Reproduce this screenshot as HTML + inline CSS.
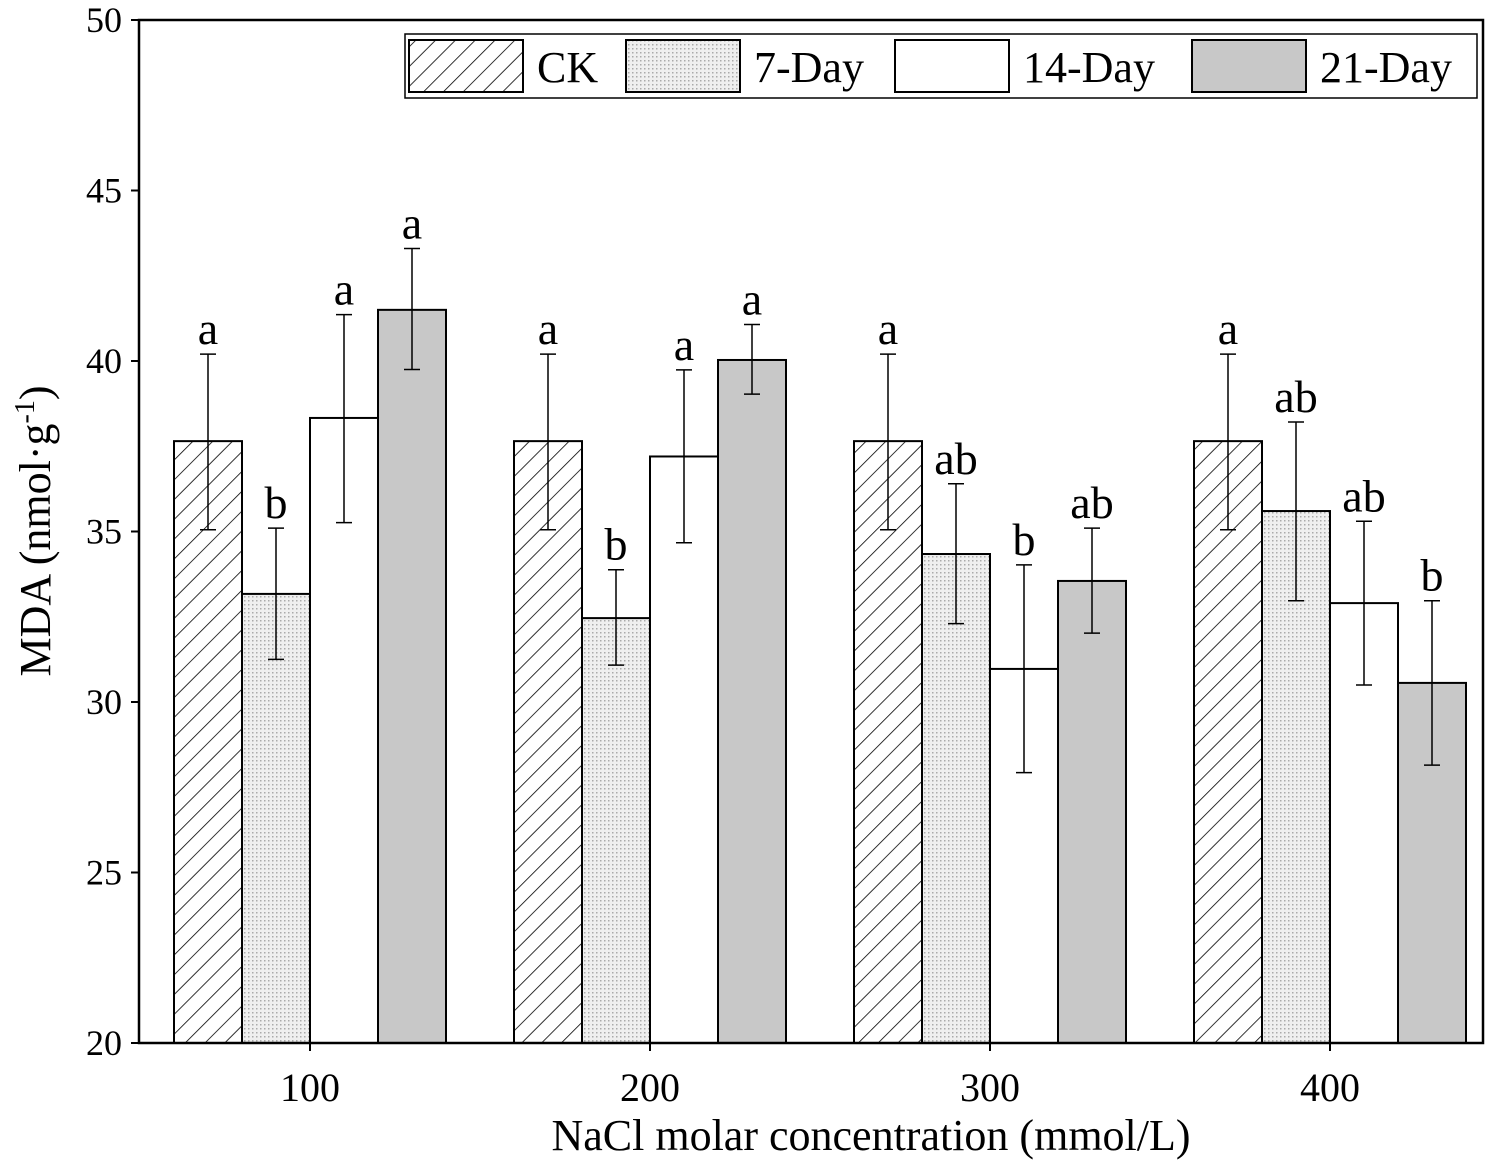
<!DOCTYPE html>
<html><head><meta charset="utf-8"><style>body{margin:0;background:#fff}svg{display:block;font-family:"Liberation Serif",serif}</style></head>
<body>
<svg id="chart" width="1501" height="1163" viewBox="0 0 1501 1163" xmlns="http://www.w3.org/2000/svg">
<defs>
<pattern id="hatch" patternUnits="userSpaceOnUse" width="14" height="14" patternTransform="rotate(45)">
<rect width="14" height="14" fill="#fff"/><line x1="0" y1="0" x2="0" y2="14" stroke="#000" stroke-width="1.6"/></pattern>
<pattern id="dots" patternUnits="userSpaceOnUse" width="4" height="4">
<rect width="4" height="4" fill="#efefef"/><rect x="0" y="0" width="1.5" height="1.5" fill="#aaa"/></pattern>
</defs>
<g id="plot"></g>
</svg>
<script>
const categories=["100","200","300","400"];
const seriesNames=["CK","7-Day","14-Day","21-Day"];
const ck=[37.65,37.65,37.65,37.65];
const ckErrLo=[35.05,35.05,35.05,35.05];
const ckErrHi=[40.2,40.2,40.2,40.2];
const d7=[33.17,32.46,34.34,35.6];
const d7ErrLo=[31.25,31.08,32.3,32.97];
const d7ErrHi=[35.1,33.88,36.4,38.21];
const d14=[38.33,37.2,30.97,32.9];
const d14ErrLo=[35.26,34.67,27.93,30.5];
const d14ErrHi=[41.36,39.74,34.02,35.3];
const d21=[41.5,40.03,33.55,30.56];
const d21ErrLo=[39.75,39.03,32.02,28.15];
const d21ErrHi=[43.3,41.07,35.1,32.97];
const ckLetters=["a","a","a","a"];
const d7Letters=["b","b","ab","ab"];
const d14Letters=["a","a","b","ab"];
const d21Letters=["a","a","ab","b"];
const yTicks=[20,25,30,35,40,45,50];

const NS="http://www.w3.org/2000/svg";
const g=document.getElementById('plot');
const L=139,R=1483,T=20,B=1043,ymin=20,ymax=50;
const y=v=>B-(v-ymin)/(ymax-ymin)*(B-T);
const groupW=340, barW=68;
const xc=i=>L+171+i*groupW;
function el(tag,attrs,text){const e=document.createElementNS(NS,tag);for(const k in attrs)e.setAttribute(k,attrs[k]);if(text!==undefined)e.textContent=text;g.appendChild(e);return e;}
const fills=["url(#hatch)","url(#dots)","#fff","#c8c8c8"];
const series=[[ck,ckErrLo,ckErrHi,ckLetters],[d7,d7ErrLo,d7ErrHi,d7Letters],[d14,d14ErrLo,d14ErrHi,d14Letters],[d21,d21ErrLo,d21ErrHi,d21Letters]];
categories.forEach((c,i)=>{
  series.forEach((s,j)=>{
    const x0=xc(i)-2*barW+j*barW;
    const b=el('rect',{x:x0,y:y(s[0][i]),width:barW,height:B-y(s[0][i]),fill:fills[j],stroke:'#000','stroke-width':2});
    
    
    const cx=x0+barW/2;
    const e=el('path',{d:`M${cx},${y(s[1][i])}V${y(s[2][i])}M${cx-8},${y(s[1][i])}H${cx+8}M${cx-8},${y(s[2][i])}H${cx+8}`,stroke:'#000','stroke-width':1.5,fill:'none'});
    
    
    const t=el('text',{x:cx,y:y(s[2][i])-10,'text-anchor':'middle','font-size':46},s[3][i]);
    
    
  });
  const xl=el('text',{x:xc(i),y:1101,'text-anchor':'middle','font-size':40},c);
  
  
  el('line',{x1:xc(i),x2:xc(i),y1:B,y2:B+8,stroke:'#000','stroke-width':2});
});
yTicks.forEach(v=>{
  el('line',{x1:L,x2:L-8,y1:y(v),y2:y(v),stroke:'#000','stroke-width':2});
  const t=el('text',{x:122,y:y(v)+12,'text-anchor':'end','font-size':36},v);
  
  
});
const ax=el('rect',{x:L,y:T,width:R-L,height:B-T,fill:'none',stroke:'#000','stroke-width':2.5});


const xt=el('text',{x:871,y:1150,'text-anchor':'middle','font-size':44},'NaCl molar concentration (mmol/L)');


const yt=el('text',{x:0,y:0,'text-anchor':'middle','font-size':44,transform:'translate(50,531) rotate(-90)'});
yt.innerHTML='MDA (nmol·g<tspan dy="-16" font-size="28">-1</tspan><tspan dy="16">)</tspan>';


const lg=el('rect',{x:405,y:34,width:1072,height:64,fill:'#fff',stroke:'#000','stroke-width':1.5});


const sw=[409,626,895,1192];
seriesNames.forEach((n,j)=>{
  const r=el('rect',{x:sw[j],y:40,width:114,height:52,fill:fills[j],stroke:'#000','stroke-width':2});
  
  
  const t=el('text',{x:sw[j]+128,y:82,'font-size':44},n);
  
  
});
</script>
</body></html>
